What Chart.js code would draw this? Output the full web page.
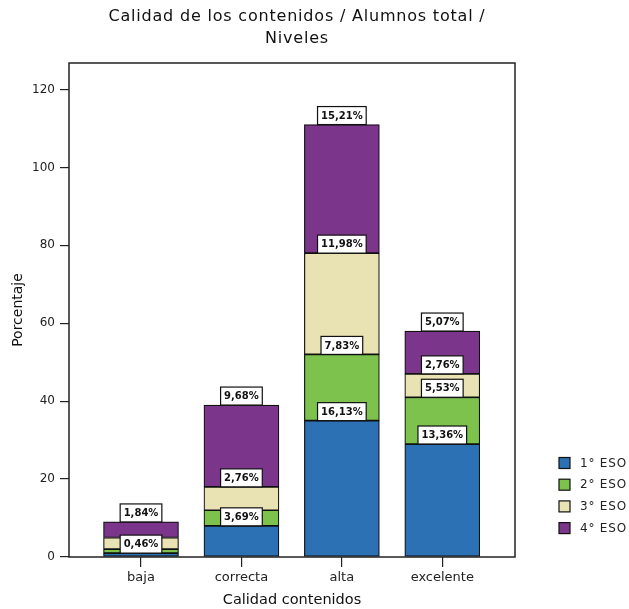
<!DOCTYPE html>
<html>
<head>
<meta charset="utf-8">
<script src="https://cdn.jsdelivr.net/npm/chart.js@4/dist/chart.umd.min.js"></script>
<style>
  html, body { margin: 0; padding: 0; background: #fff; }
  canvas { display: block; }
</style>
</head>
<body>
<canvas id="c" width="629" height="609"></canvas>
<script>
// Quality ratings of the contents, number of students per level
const categories = ['baja', 'correcta', 'alta', 'excelente'];
const levels = ['1° ESO', '2° ESO', '3° ESO', '4° ESO'];
const eso1 = [1, 8, 35, 29];
const eso2 = [1, 4, 17, 12];
const eso3 = [3, 6, 26, 6];
const eso4 = [4, 21, 33, 11];
const yTicks = [0, 20, 40, 60, 80, 100, 120];
const titleLines = ['Calidad de los contenidos / Alumnos total /', 'Niveles'];
const colors = ['#2b71b3', '#7cc24c', '#e9e2b2', '#7b368c'];

const series = [eso1, eso2, eso3, eso4];
const grandTotal = series.flat().reduce((a, b) => a + b, 0);
const FONT = '"DejaVu Sans", "Liberation Sans", sans-serif';

const datasets = series.map((vals, k) => ({
  label: levels[k],
  data: vals.map((v, i) => ({ x: i, y: v })),
  backgroundColor: colors[k],
  borderColor: '#111',
  borderWidth: 1.2,
  borderSkipped: false,
  barThickness: 75
}));

const pctText = v => (v / grandTotal * 100).toFixed(2).replace('.', ',') + '%';

// Frame, title, segment labels and legend
const decorations = {
  id: 'decorations',
  afterDatasetsDraw(chart) {
    const { ctx, scales: { x, y } } = chart;
    ctx.save();
    ctx.font = 'bold 10px ' + FONT;
    ctx.textAlign = 'center';
    ctx.textBaseline = 'middle';
    categories.forEach((c, i) => {
      let cum = 0;
      const placed = [];
      series.forEach(vals => {
        cum += vals[i];
        const top = y.getPixelForValue(cum);
        const txt = pctText(vals[i]);
        const w = ctx.measureText(txt).width + 7;
        const h = 18;
        const box = { t: top - h, b: top };
        if (placed.some(p => box.t < p.b && box.b > p.t)) return;
        placed.push(box);
        const cx = x.getPixelForValue(i);
        ctx.fillStyle = '#fff';
        ctx.fillRect(cx - w / 2, box.t, w, h);
        ctx.strokeStyle = '#111';
        ctx.lineWidth = 1.2;
        ctx.strokeRect(cx - w / 2, box.t, w, h);
        ctx.fillStyle = '#111';
        ctx.fillText(txt, cx, box.t + h / 2 + 0.5);
      });
    });
    ctx.restore();
  },
  afterDraw(chart) {
    const { ctx, chartArea: a } = chart;
    ctx.save();
    // plot frame
    ctx.strokeStyle = '#222';
    ctx.lineWidth = 1.5;
    ctx.strokeRect(a.left, a.top, a.right - a.left, a.bottom - a.top);
    // title
    ctx.fillStyle = '#111';
    ctx.font = '16px ' + FONT;
    ctx.letterSpacing = '0.8px';
    ctx.textAlign = 'center';
    ctx.textBaseline = 'middle';
    const cx = (a.left + a.right) / 2 + 5;
    ctx.fillText(titleLines[0], cx, 17);
    ctx.fillText(titleLines[1], cx, 39);
    // legend
    ctx.font = '12px ' + FONT;
    ctx.letterSpacing = '0.8px';
    ctx.textAlign = 'left';
    levels.forEach((lab, k) => {
      const yc = 463 + k * 21.7;
      ctx.fillStyle = colors[k];
      ctx.fillRect(559, yc - 5.5, 11, 11);
      ctx.strokeStyle = '#111';
      ctx.lineWidth = 1.2;
      ctx.strokeRect(559, yc - 5.5, 11, 11);
      ctx.fillStyle = '#222';
      ctx.fillText(lab, 580, yc + 0.5);
    });
    ctx.restore();
  }
};

new Chart(document.getElementById('c'), {
  type: 'bar',
  data: { datasets },
  options: {
    responsive: false,
    animation: false,
    devicePixelRatio: 1,
    layout: { padding: { left: 0, top: 63, right: 629 - 515, bottom: 0 } },
    plugins: {
      legend: { display: false },
      title: { display: false },
      tooltip: { enabled: false }
    },
    scales: {
      x: {
        type: 'linear',
        stacked: true,
        offset: false,
        min: -0.717,
        max: 3.724,
        afterBuildTicks: s => { s.ticks = categories.map((c, i) => ({ value: i })); },
        afterFit: s => { s.height = 609 - 557; },
        ticks: {
          callback: v => categories[v],
          color: '#222',
          font: { family: FONT, size: 13 },
          padding: 3,
          maxRotation: 0
        },
        grid: { display: true, offset: false, drawOnChartArea: false, drawTicks: true, tickLength: 10, color: '#222', lineWidth: 1.2 },
        border: { display: false },
        title: {
          display: true,
          text: 'Calidad contenidos',
          color: '#111',
          font: { family: FONT, size: 14.5 },
          padding: { top: 0, bottom: 0 }
        }
      },
      y: {
        stacked: true,
        min: 0,
        max: 126.8,
        afterBuildTicks: s => { s.ticks = yTicks.map(v => ({ value: v })); },
        afterFit: s => { s.width = 69; },
        ticks: {
          color: '#222',
          font: { family: FONT, size: 12 },
          padding: 5
        },
        grid: { display: true, drawOnChartArea: false, drawTicks: true, tickLength: 9, color: '#222', lineWidth: 1.2 },
        border: { display: false },
        title: {
          display: true,
          text: 'Porcentaje',
          color: '#111',
          font: { family: FONT, size: 14 },
          padding: { top: 10, bottom: 0 }
        }
      }
    }
  },
  plugins: [decorations]
});
</script>
</body>
</html>
